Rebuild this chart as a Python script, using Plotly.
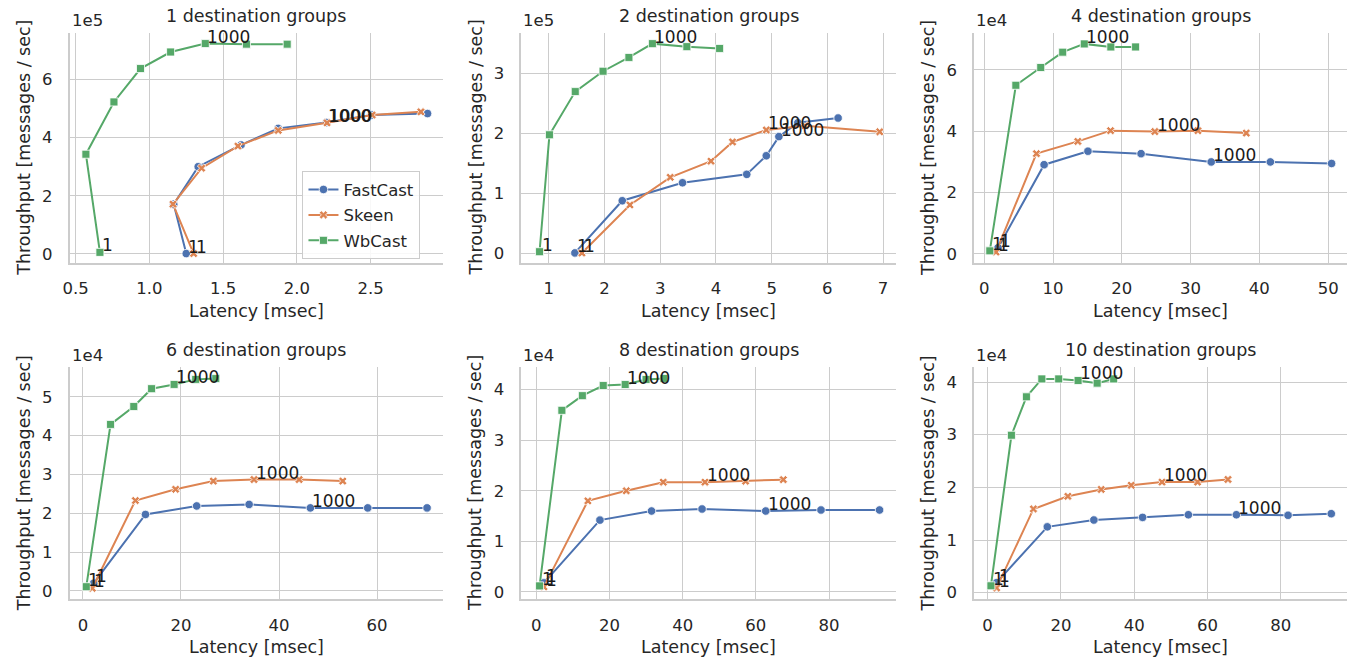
import plotly.graph_objects as go

W, H = 1355, 665

SERIES = ["FastCast", "Skeen", "WbCast"]
COLORS = {"FastCast": "#4C72B0", "Skeen": "#DD8452", "WbCast": "#55A868"}
SYMBOLS = {"FastCast": "circle", "Skeen": "x", "WbCast": "square"}
MSIZE = {"FastCast": 8.5, "Skeen": 7.5, "WbCast": 8}

group_counts = [1, 2, 4, 6, 8, 10]

# ---------------- data: latency [msec], throughput [messages / sec] ----------------
# 1 destination group
g1_fastcast_lat = [1.25, 1.165, 1.331, 1.621, 1.873, 2.20, 2.507, 2.885]
g1_fastcast_thr = [800, 171000, 300000, 375000, 432000, 452000, 478000, 483000]
g1_skeen_lat = [1.30, 1.16, 1.354, 1.60, 1.873, 2.204, 2.51, 2.84]
g1_skeen_thr = [770, 171000, 295000, 371000, 425000, 451000, 478000, 489000]
g1_wbcast_lat = [0.665, 0.57, 0.76, 0.94, 1.144, 1.379, 1.658, 1.934]
g1_wbcast_thr = [5000, 343000, 523000, 638000, 695000, 724000, 722000, 722000]

# 2 destination groups
g2_fastcast_lat = [1.469, 2.319, 3.40, 4.553, 4.904, 5.13, 5.47, 6.193]
g2_fastcast_thr = [1000, 88000, 118000, 132000, 163000, 195000, 218000, 226000]
g2_skeen_lat = [1.594, 2.456, 3.18, 3.911, 4.298, 4.904, 5.6, 6.94]
g2_skeen_thr = [800, 81000, 127000, 154000, 186000, 206000, 213000, 203000]
g2_wbcast_lat = [0.834, 1.012, 1.475, 1.974, 2.438, 2.86, 3.478, 4.066]
g2_wbcast_thr = [3000, 198000, 270000, 304000, 327000, 350000, 345000, 342000]

# 4 destination groups
g4_fastcast_lat = [2.0, 8.7, 15.07, 22.8, 33.0, 41.6, 50.5]
g4_fastcast_thr = [2000, 29100, 33500, 32700, 30000, 30000, 29500]
g4_skeen_lat = [1.7, 7.58, 13.6, 18.36, 24.8, 31.06, 38.1]
g4_skeen_thr = [600, 32700, 36700, 40200, 39900, 40200, 39400]
g4_wbcast_lat = [0.8, 4.59, 8.21, 11.4, 14.54, 18.4, 22.0]
g4_wbcast_thr = [1000, 55000, 60800, 65800, 68500, 67500, 67500]

# 6 destination groups
g6_fastcast_lat = [2.2, 12.75, 23.2, 33.9, 46.4, 58.1, 70.2]
g6_fastcast_thr = [2000, 19700, 21900, 22300, 21400, 21400, 21400]
g6_skeen_lat = [1.9, 10.7, 18.9, 26.6, 34.9, 44.1, 53.0]
g6_skeen_thr = [700, 23300, 26200, 28300, 28700, 28700, 28300]
g6_wbcast_lat = [0.68, 5.63, 10.37, 14.0, 18.6, 23.0, 27.1]
g6_wbcast_thr = [1100, 42900, 47500, 52100, 53200, 54500, 54700]

# 8 destination groups
g8_fastcast_lat = [2.1, 17.4, 31.5, 45.3, 62.7, 77.8, 93.8]
g8_fastcast_thr = [1800, 14200, 16000, 16400, 16000, 16200, 16200]
g8_skeen_lat = [2.1, 14.1, 24.6, 34.7, 46.1, 57.2, 67.5]
g8_skeen_thr = [1000, 18000, 20000, 21700, 21700, 21900, 22200]
g8_wbcast_lat = [0.9, 7.0, 12.6, 18.3, 24.3, 30.0, 34.9]
g8_wbcast_thr = [1200, 35900, 38800, 40800, 41000, 42000, 42200]

# 10 destination groups
g10_fastcast_lat = [2.45, 16.3, 29.0, 42.3, 54.8, 67.9, 82.0, 93.8]
g10_fastcast_thr = [1900, 12500, 13800, 14300, 14800, 14800, 14700, 15000]
g10_skeen_lat = [2.45, 12.5, 21.9, 31.0, 39.2, 47.6, 57.3, 65.6]
g10_skeen_thr = [900, 15900, 18300, 19600, 20400, 21000, 21000, 21500]
g10_wbcast_lat = [0.9, 6.5, 10.6, 14.8, 19.4, 24.7, 29.9, 34.4]
g10_wbcast_thr = [1300, 29900, 37200, 40600, 40600, 40300, 39800, 40600]

# index of the point measured with 1000 clients in each panel
label_1000_index = [5, 5, 4, 4, 4, 5]

# tick labels
x_tick_values = [
    [0.5, 1.0, 1.5, 2.0, 2.5],
    [1, 2, 3, 4, 5, 6, 7],
    [0, 10, 20, 30, 40, 50],
    [0, 20, 40, 60],
    [0, 20, 40, 60, 80],
    [0, 20, 40, 60, 80],
]
x_tick_text = [
    ["0.5", "1.0", "1.5", "2.0", "2.5"],
    ["1", "2", "3", "4", "5", "6", "7"],
    ["0", "10", "20", "30", "40", "50"],
    ["0", "20", "40", "60"],
    ["0", "20", "40", "60", "80"],
    ["0", "20", "40", "60", "80"],
]
y_scale = [1e5, 1e5, 1e4, 1e4, 1e4, 1e4]
y_scale_text = ["1e5", "1e5", "1e4", "1e4", "1e4", "1e4"]
y_tick_units = [
    [0, 2, 4, 6],
    [0, 1, 2, 3],
    [0, 2, 4, 6],
    [0, 1, 2, 3, 4, 5],
    [0, 1, 2, 3, 4],
    [0, 1, 2, 3, 4],
]
x_ranges = [[0.46, 2.988], [0.507, 7.239], [-1.5, 52.75], [-2.71, 73.4], [-4.08, 98.4], [-3.72, 98.1]]
y_ranges = [[-0.31e5, 7.61e5], [-0.155e5, 3.68e5], [-0.29e4, 7.21e4], [-0.214e4, 5.76e4], [-0.145e4, 4.44e4], [-0.126e4, 4.28e4]]

panels_data = [
    {"FastCast": (g1_fastcast_lat, g1_fastcast_thr), "Skeen": (g1_skeen_lat, g1_skeen_thr), "WbCast": (g1_wbcast_lat, g1_wbcast_thr)},
    {"FastCast": (g2_fastcast_lat, g2_fastcast_thr), "Skeen": (g2_skeen_lat, g2_skeen_thr), "WbCast": (g2_wbcast_lat, g2_wbcast_thr)},
    {"FastCast": (g4_fastcast_lat, g4_fastcast_thr), "Skeen": (g4_skeen_lat, g4_skeen_thr), "WbCast": (g4_wbcast_lat, g4_wbcast_thr)},
    {"FastCast": (g6_fastcast_lat, g6_fastcast_thr), "Skeen": (g6_skeen_lat, g6_skeen_thr), "WbCast": (g6_wbcast_lat, g6_wbcast_thr)},
    {"FastCast": (g8_fastcast_lat, g8_fastcast_thr), "Skeen": (g8_skeen_lat, g8_skeen_thr), "WbCast": (g8_wbcast_lat, g8_wbcast_thr)},
    {"FastCast": (g10_fastcast_lat, g10_fastcast_thr), "Skeen": (g10_skeen_lat, g10_skeen_thr), "WbCast": (g10_wbcast_lat, g10_wbcast_thr)},
]

# ---------------- layout geometry (screen pixels) ----------------
col_px = [(63, 438), (517, 894), (972, 1347)]
row_px = [(33, 264), (369, 602)]

TEXT = "#262626"
GRID = "#cccccc"
FONT = "DejaVu Sans"


def fx(px):
    return px / W


def fy(py):
    return 1 - py / H


fig = go.Figure()
annotations = []
layout_axes = {}

for i, data in enumerate(panels_data):
    r, c = divmod(i, 3)
    n = i + 1
    xa = "x" if n == 1 else f"x{n}"
    ya = "y" if n == 1 else f"y{n}"
    xl, xr = col_px[c]
    yt, yb = row_px[r]

    for s in SERIES:
        lat, thr = data[s]
        fig.add_trace(go.Scatter(
            x=lat, y=thr, mode="lines+markers", name=s,
            legendgroup=s, showlegend=(i == 0),
            line=dict(color=COLORS[s], width=2),
            marker=dict(symbol=SYMBOLS[s], size=MSIZE[s], color=COLORS[s],
                        line=dict(color="white", width=0.8)),
            xaxis=xa, yaxis=ya,
        ))
        k = label_1000_index[i]
        for idx, txt in ((0, "1"), (k, "1000")):
            annotations.append(dict(
                x=lat[idx], y=thr[idx], xref=xa, yref=ya, text=txt,
                showarrow=False, xanchor="left", yanchor="bottom", yshift=-5,
                font=dict(family=FONT, size=17, color="#1a1a1a"),
            ))

    axis_common = dict(
        showline=True, linecolor=GRID, linewidth=1.5,
        showgrid=True, gridcolor=GRID, gridwidth=1.3,
        zeroline=False, ticks="",
        tickfont=dict(family=FONT, size=16.5, color=TEXT),
    )
    layout_axes["xaxis" if n == 1 else f"xaxis{n}"] = dict(
        axis_common, domain=[fx(xl), fx(xr)], anchor=ya, range=x_ranges[i],
        tickmode="array", tickvals=x_tick_values[i], ticktext=x_tick_text[i],
        ticklabelstandoff=10,
    )
    yvals = [u * y_scale[i] for u in y_tick_units[i]]
    layout_axes["yaxis" if n == 1 else f"yaxis{n}"] = dict(
        axis_common, domain=[fy(yb), fy(yt)], anchor=xa, range=y_ranges[i],
        tickmode="array", tickvals=yvals, ticktext=[str(u) for u in y_tick_units[i]],
        ticklabelstandoff=12,
    )

    # subplot title
    annotations.append(dict(
        x=fx((xl + xr) / 2), y=fy(yt - 17), xref="paper", yref="paper",
        text=f"{group_counts[i]} destination groups", showarrow=False,
        xanchor="center", yanchor="middle",
        font=dict(family=FONT, size=17.5, color=TEXT),
    ))
    # offset text
    annotations.append(dict(
        x=fx(xl), y=fy(yt - 12), xref="paper", yref="paper",
        text=y_scale_text[i], showarrow=False, xanchor="left", yanchor="middle",
        font=dict(family=FONT, size=16.5, color=TEXT),
    ))
    # x axis title
    annotations.append(dict(
        x=fx((xl + xr) / 2), y=fy(yb + 48), xref="paper", yref="paper",
        text="Latency [msec]", showarrow=False, xanchor="center", yanchor="middle",
        font=dict(family=FONT, size=17.5, color=TEXT),
    ))
    # y axis title
    annotations.append(dict(
        x=fx(xl - 46), y=fy((yt + yb) / 2), xref="paper", yref="paper",
        text="Throughput [messages / sec]", showarrow=False, textangle=-90,
        xanchor="center", yanchor="middle",
        font=dict(family=FONT, size=17.5, color=TEXT),
    ))

fig.update_layout(
    width=W, height=H,
    margin=dict(l=0, r=0, t=0, b=0),
    paper_bgcolor="white", plot_bgcolor="white",
    font=dict(family=FONT, color=TEXT),
    annotations=annotations,
    legend=dict(
        x=fx(297), y=fy(172), xanchor="left", yanchor="top",
        bgcolor="rgba(255,255,255,0.85)", bordercolor=GRID, borderwidth=1,
        font=dict(family=FONT, size=16.5, color=TEXT),
        tracegroupgap=1,
    ),
    **layout_axes,
)

fig.write_html("out.html", config={"displayModeBar": False},
               post_script="document.body.style.margin='0';")
